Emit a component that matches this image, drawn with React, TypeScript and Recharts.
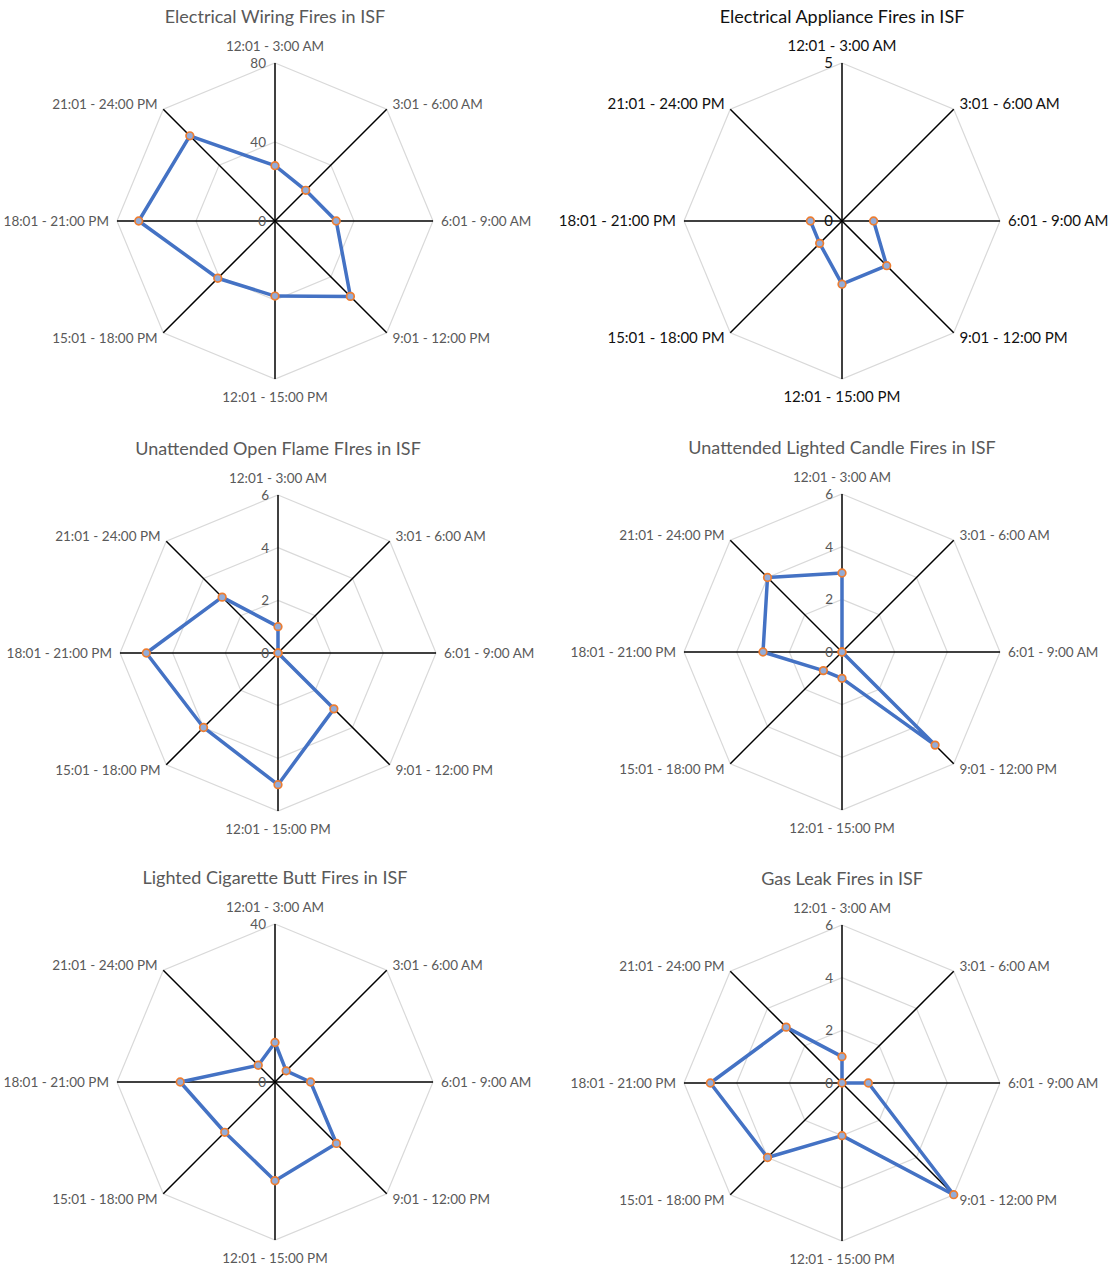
import type { FC } from "react";
import {
  RadarChart,
  Radar,
  PolarGrid,
  PolarAngleAxis,
  PolarRadiusAxis,
} from "recharts";

// Three-hour time slots, clockwise from the top
const timeSlots = [
  "12:01 - 3:00 AM",
  "3:01 - 6:00 AM",
  "6:01 - 9:00 AM",
  "9:01 - 12:00 PM",
  "12:01 - 15:00 PM",
  "15:01 - 18:00 PM",
  "18:01 - 21:00 PM",
  "21:01 - 24:00 PM",
];

// Fire counts per slot (null = no record for that slot)
const wiringFires = [28, 22, 31, 54, 38, 41, 69, 61];
const applianceFires = [null, null, 1, 2, 2, 1, 1, null];
const openFlameFires = [1, 0, 0, 3, 5, 4, 5, 3];
const candleFires = [3, 0, 0, 5, 1, 1, 3, 4];
const cigaretteFires = [10, 4, 9, 22, 25, 18, 24, 6];
const gasLeakFires = [1, 0, 1, 6, 2, 4, 5, 3];

// Radius axis tick values
const wiringTicks = [0, 40, 80];
const applianceTicks = [0, 5];
const smallCountTicks = [0, 2, 4, 6];
const cigaretteTicks = [0, 40];

const FONT = "Lato, 'Open Sans', sans-serif";
const LINE = "#4472C4";
const MARKER = "#ED7D31";

const isMissing = (v: any) => v === null || v === undefined;

const pointOk = (p: any) =>
  p && p.payload && !isMissing(p.payload.fires) && Number.isFinite(p.x) && Number.isFinite(p.y);

// Draws the series as a polyline that breaks where a value is missing
const GapLine = (props: any) => {
  const pts: any[] = props.points || [];
  let d = "";
  pts.forEach((p, i) => {
    if (!pointOk(p)) return;
    d += (i > 0 && pointOk(pts[i - 1]) ? "L" : "M") + p.x + "," + p.y;
  });
  if (pts.length && pointOk(pts[0]) && pointOk(pts[pts.length - 1])) {
    d += "L" + pts[0].x + "," + pts[0].y;
  }
  return (
    <path
      d={d}
      fill="none"
      stroke={LINE}
      strokeWidth={3.5}
      strokeLinejoin="round"
    />
  );
};

// Orange ring marker, skipped for empty slots
const RingDot = (props: any) => {
  const row = props.payload && props.payload.payload ? props.payload.payload : props.payload;
  const ok = row && !isMissing(row.fires) && Number.isFinite(props.cx) && Number.isFinite(props.cy);
  if (!ok) return <g key={props.key} />;
  return (
    <circle
      key={props.key}
      cx={props.cx}
      cy={props.cy}
      r={3.8}
      fill="#93acd9"
      stroke={MARKER}
      strokeWidth={1.7}
    />
  );
};

interface PanelProps {
  title: string;
  values: (number | null)[];
  ticks: number[];
  left: number;
  top: number;
  cx: number;
  cy: number;
  dark?: boolean;
}

const W = 555;
const H = 430;
const R = 158;

const Panel: FC<PanelProps> = ({ title, values, ticks, left, top, cx, cy, dark }) => {
  const rows = timeSlots.map((slot, i) => ({ slot, fires: values[i] }));
  const textColor = dark ? "#111" : "#595959";
  const labelSize = dark ? 15 : 13.5;

  const angleTick = (p: any) => {
    const { x, y, payload } = p;
    const dx = x - cx;
    const dy = y - cy;
    let anchor = "middle";
    if (dx > 1) anchor = "start";
    else if (dx < -1) anchor = "end";
    let baseY = y + 5;
    if (Math.abs(dx) < 1 && dy < 0) baseY = y - 4;
    if (Math.abs(dx) < 1 && dy > 0) baseY = y + 15;
    return (
      <text
        x={x}
        y={baseY}
        textAnchor={anchor}
        fill={textColor}
        fontSize={labelSize}
        fontFamily={FONT}
      >
        {payload.value}
      </text>
    );
  };

  const radiusTick = (p: any) => (
    <text
      x={p.x - 9}
      y={p.y + 5}
      textAnchor="end"
      fill={textColor}
      fontSize={labelSize}
      fontFamily={FONT}
    >
      {p.payload.value}
    </text>
  );

  return (
    <div style={{ position: "absolute", left, top, width: W, height: H }}>
      <div
        style={{
          position: "absolute",
          left: cx - 250,
          width: 500,
          top: cy - 205 - 12,
          textAlign: "center",
          fontFamily: FONT,
          fontSize: 18,
          color: dark ? "#111" : "#595959",
          lineHeight: "24px",
        }}
      >
        {title}
      </div>
      <RadarChart
        width={W}
        height={H}
        data={rows}
        cx={cx}
        cy={cy}
        outerRadius={R}
        margin={{ top: 0, right: 0, bottom: 0, left: 0 }}
      >
        {/* light rings at each tick, black spokes on top */}
        <PolarGrid gridType="polygon" radialLines={false} stroke="#d9d9d9" strokeWidth={1.2} />
        <PolarGrid gridType="polygon" polarRadius={[]} stroke="#000" strokeWidth={1.5} />
        <PolarAngleAxis
          dataKey="slot"
          axisLine={false}
          tickLine={false}
          tick={angleTick}
        />
        <PolarRadiusAxis
          angle={90}
          type="number"
          domain={[0, ticks[ticks.length - 1]]}
          ticks={ticks}
          tickCount={ticks.length}
          axisLine={false}
          tickLine={false}
          tick={radiusTick}
        />
        <Radar
          dataKey="fires"
          shape={GapLine}
          dot={RingDot}
          isAnimationActive={false}
        />
      </RadarChart>
    </div>
  );
};

export default function App() {
  return (
    <div
      style={{
        position: "absolute",
        left: 0,
        top: 0,
        width: 1111,
        height: 1269,
        background: "#fff",
      }}
    >
      <Panel title="Electrical Wiring Fires in ISF" values={wiringFires} ticks={wiringTicks} left={0} top={0} cx={275} cy={221} />
      <Panel title="Electrical Appliance Fires in ISF" values={applianceFires} ticks={applianceTicks} left={556} top={0} cx={286} cy={221} dark />
      <Panel title="Unattended Open Flame FIres in ISF" values={openFlameFires} ticks={smallCountTicks} left={0} top={430} cx={278} cy={223} />
      <Panel title="Unattended Lighted Candle Fires in ISF" values={candleFires} ticks={smallCountTicks} left={556} top={430} cx={286} cy={222} />
      <Panel title="Lighted Cigarette Butt Fires in ISF" values={cigaretteFires} ticks={cigaretteTicks} left={0} top={860} cx={275} cy={222} />
      <Panel title="Gas Leak Fires in ISF" values={gasLeakFires} ticks={smallCountTicks} left={556} top={860} cx={286} cy={223} />
    </div>
  );
}
